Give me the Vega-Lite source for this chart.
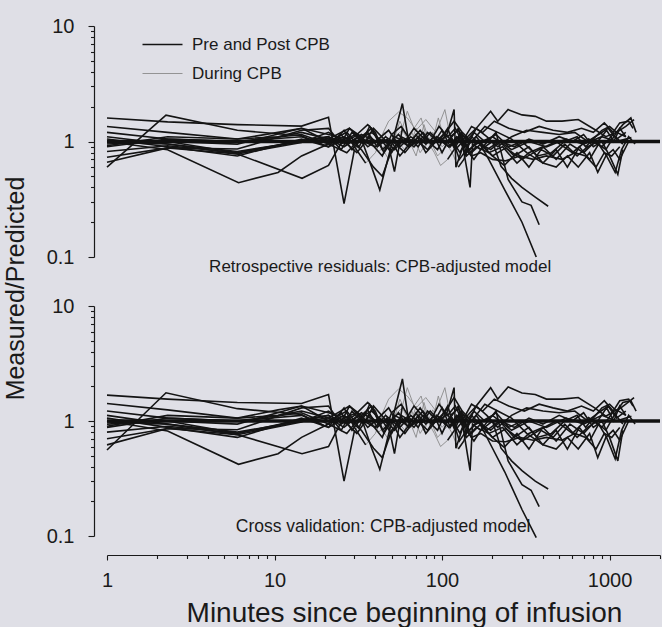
{
"$schema": "https://vega.github.io/schema/vega-lite/v6.json",
"background": "#dfdfe6",
"padding": {"left": 3, "top": 16, "right": 0, "bottom": 0},
"config": {
  "font": "Liberation Sans",
  "view": {"stroke": null},
  "axis": {"grid": false, "domainColor": "#1a1a1a", "tickColor": "#1a1a1a", "labelColor": "#1a1a1a", "titleColor": "#1a1a1a", "titleFontWeight": "normal", "domainWidth": 1.2, "tickWidth": 1.1, "labelOverlap": false, "labelFlush": false}
},
"data": {"values": [
{"g":11,"p":"P","t":1,"a":1.6,"b":1.68},{"g":11,"p":"P","t":2.3,"a":1.48,"b":1.55},{"g":11,"p":"P","t":6,"a":1.4,"b":1.45},{"g":11,"p":"P","t":14.5,"a":1.36,"b":1.42},{"g":11,"p":"P","t":21,"a":1.62,"b":1.7},{"g":11,"p":"P","t":26,"a":0.29,"b":0.3},{"g":11,"p":"P","t":30,"a":0.85,"b":0.82},
{"g":12,"p":"D","t":30,"a":0.85,"b":0.82},{"g":12,"p":"D","t":36,"a":1.1,"b":1.12},{"g":12,"p":"D","t":42,"a":0.82,"b":0.8},{"g":12,"p":"D","t":50,"a":1.05,"b":1.07},{"g":12,"p":"D","t":58,"a":1.25,"b":1.3},{"g":12,"p":"D","t":66,"a":0.92,"b":0.9},{"g":12,"p":"D","t":75,"a":1.1,"b":1.12},{"g":12,"p":"D","t":85,"a":0.95,"b":0.94},{"g":12,"p":"D","t":95,"a":1.08,"b":1.1},
{"g":13,"p":"P","t":95,"a":1.08,"b":1.1},{"g":13,"p":"P","t":110,"a":0.9,"b":0.88},{"g":13,"p":"P","t":130,"a":1.15,"b":1.18},{"g":13,"p":"P","t":160,"a":0.95,"b":0.94},{"g":13,"p":"P","t":200,"a":1.1,"b":1.12},{"g":13,"p":"P","t":260,"a":0.85,"b":0.83},{"g":13,"p":"P","t":330,"a":1.0,"b":1.0},{"g":13,"p":"P","t":420,"a":0.9,"b":0.88},{"g":13,"p":"P","t":550,"a":1.05,"b":1.06},{"g":13,"p":"P","t":700,"a":0.95,"b":0.94},{"g":13,"p":"P","t":900,"a":1.1,"b":1.12},{"g":13,"p":"P","t":1100,"a":1.0,"b":1.0},{"g":13,"p":"P","t":1350,"a":1.08,"b":1.1},
{"g":21,"p":"P","t":1,"a":0.6,"b":0.56},{"g":21,"p":"P","t":2.25,"a":1.69,"b":1.76},{"g":21,"p":"P","t":6,"a":1.25,"b":1.28},{"g":21,"p":"P","t":14.5,"a":1.12,"b":1.14},{"g":21,"p":"P","t":20,"a":0.92,"b":0.9},{"g":21,"p":"P","t":25,"a":1.15,"b":1.18},{"g":21,"p":"P","t":29,"a":0.85,"b":0.83},{"g":21,"p":"P","t":33,"a":1.05,"b":1.06},{"g":21,"p":"P","t":38,"a":0.6,"b":0.58},{"g":21,"p":"P","t":42.5,"a":0.38,"b":0.38},{"g":21,"p":"P","t":58,"a":2.13,"b":2.32},{"g":21,"p":"P","t":64,"a":0.9,"b":0.88},
{"g":22,"p":"D","t":64,"a":0.9,"b":0.88},{"g":22,"p":"D","t":70,"a":1.3,"b":1.35},{"g":22,"p":"D","t":78,"a":0.85,"b":0.82},{"g":22,"p":"D","t":88,"a":1.2,"b":1.25},{"g":22,"p":"D","t":100,"a":0.9,"b":0.88},{"g":22,"p":"D","t":112,"a":1.05,"b":1.06},
{"g":23,"p":"P","t":112,"a":1.05,"b":1.06},{"g":23,"p":"P","t":125,"a":1.3,"b":1.35},{"g":23,"p":"P","t":140,"a":0.8,"b":0.78},{"g":23,"p":"P","t":165,"a":1.0,"b":1.0},{"g":23,"p":"P","t":200,"a":0.75,"b":0.72},{"g":23,"p":"P","t":240,"a":0.88,"b":0.86},{"g":23,"p":"P","t":300,"a":0.7,"b":0.67},{"g":23,"p":"P","t":380,"a":0.85,"b":0.83},{"g":23,"p":"P","t":480,"a":1.0,"b":1.0},{"g":23,"p":"P","t":600,"a":0.8,"b":0.78},{"g":23,"p":"P","t":750,"a":1.05,"b":1.07},{"g":23,"p":"P","t":900,"a":0.9,"b":0.88},{"g":23,"p":"P","t":1050,"a":1.15,"b":1.2},{"g":23,"p":"P","t":1200,"a":0.95,"b":0.94},
{"g":31,"p":"P","t":1,"a":1.35,"b":1.42},{"g":31,"p":"P","t":2.3,"a":1.2,"b":1.25},{"g":31,"p":"P","t":6,"a":1.05,"b":1.06},{"g":31,"p":"P","t":10.5,"a":1.2,"b":1.25},{"g":31,"p":"P","t":14.5,"a":1.3,"b":1.35},{"g":31,"p":"P","t":21,"a":1.0,"b":1.0},{"g":31,"p":"P","t":27,"a":1.2,"b":1.22},{"g":31,"p":"P","t":32,"a":0.9,"b":0.88},{"g":31,"p":"P","t":37,"a":1.35,"b":1.4},{"g":31,"p":"P","t":42,"a":1.0,"b":1.0},
{"g":32,"p":"D","t":42,"a":1.0,"b":1.0},{"g":32,"p":"D","t":48,"a":1.5,"b":1.55},{"g":32,"p":"D","t":55,"a":1.8,"b":1.9},{"g":32,"p":"D","t":62,"a":1.6,"b":1.65},{"g":32,"p":"D","t":70,"a":1.25,"b":1.3},{"g":32,"p":"D","t":80,"a":1.55,"b":1.6},{"g":32,"p":"D","t":92,"a":1.2,"b":1.22},{"g":32,"p":"D","t":104,"a":1.89,"b":1.95},{"g":32,"p":"D","t":112,"a":1.1,"b":1.12},
{"g":33,"p":"P","t":112,"a":1.1,"b":1.12},{"g":33,"p":"P","t":125,"a":1.25,"b":1.28},{"g":33,"p":"P","t":140,"a":0.9,"b":0.9},{"g":33,"p":"P","t":160,"a":1.3,"b":1.35},{"g":33,"p":"P","t":195,"a":1.83,"b":1.95},{"g":33,"p":"P","t":215,"a":1.5,"b":1.55},{"g":33,"p":"P","t":248,"a":1.89,"b":1.98},{"g":33,"p":"P","t":300,"a":1.7,"b":1.75},{"g":33,"p":"P","t":360,"a":1.65,"b":1.7},{"g":33,"p":"P","t":420,"a":1.5,"b":1.55},{"g":33,"p":"P","t":520,"a":1.5,"b":1.55},{"g":33,"p":"P","t":650,"a":1.55,"b":1.6},{"g":33,"p":"P","t":815,"a":1.27,"b":1.3},{"g":33,"p":"P","t":950,"a":1.1,"b":1.1},{"g":33,"p":"P","t":1100,"a":1.2,"b":1.25},{"g":33,"p":"P","t":1250,"a":1.1,"b":1.12},
{"g":41,"p":"P","t":1,"a":1.0,"b":1.0},{"g":41,"p":"P","t":2.3,"a":0.85,"b":0.82},{"g":41,"p":"P","t":6.1,"a":0.44,"b":0.42},{"g":41,"p":"P","t":10.5,"a":0.54,"b":0.52},{"g":41,"p":"P","t":14.5,"a":0.75,"b":0.72},{"g":41,"p":"P","t":21,"a":0.95,"b":0.94},{"g":41,"p":"P","t":26,"a":1.1,"b":1.12},{"g":41,"p":"P","t":31,"a":0.95,"b":0.94},{"g":41,"p":"P","t":36,"a":1.2,"b":1.25},{"g":41,"p":"P","t":41,"a":0.9,"b":0.88},{"g":41,"p":"P","t":47,"a":1.05,"b":1.06},{"g":41,"p":"P","t":52,"a":0.55,"b":0.52},{"g":41,"p":"P","t":58,"a":1.3,"b":1.35},
{"g":42,"p":"D","t":58,"a":1.3,"b":1.35},{"g":42,"p":"D","t":62,"a":1.83,"b":1.95},{"g":42,"p":"D","t":68,"a":1.3,"b":1.35},{"g":42,"p":"D","t":75,"a":1.6,"b":1.65},{"g":42,"p":"D","t":82,"a":1.0,"b":1.0},{"g":42,"p":"D","t":90,"a":0.8,"b":0.78},{"g":42,"p":"D","t":98,"a":0.62,"b":0.6},{"g":42,"p":"D","t":108,"a":0.7,"b":0.68},
{"g":43,"p":"P","t":108,"a":0.7,"b":0.68},{"g":43,"p":"P","t":118,"a":0.85,"b":0.82},{"g":43,"p":"P","t":130,"a":1.1,"b":1.12},{"g":43,"p":"P","t":147,"a":0.4,"b":0.37},{"g":43,"p":"P","t":152,"a":0.95,"b":0.94},{"g":43,"p":"P","t":170,"a":0.85,"b":0.83},{"g":43,"p":"P","t":200,"a":1.0,"b":1.0},{"g":43,"p":"P","t":225,"a":0.61,"b":0.58},{"g":43,"p":"P","t":260,"a":0.48,"b":0.45},{"g":43,"p":"P","t":300,"a":0.4,"b":0.37},{"g":43,"p":"P","t":360,"a":0.33,"b":0.3},{"g":43,"p":"P","t":430,"a":0.275,"b":0.256},
{"g":51,"p":"P","t":1,"a":0.73,"b":0.7},{"g":51,"p":"P","t":2.3,"a":0.88,"b":0.86},{"g":51,"p":"P","t":6,"a":0.78,"b":0.76},{"g":51,"p":"P","t":14.6,"a":0.48,"b":0.52},{"g":51,"p":"P","t":21,"a":0.62,"b":0.6},{"g":51,"p":"P","t":28,"a":1.3,"b":1.35},{"g":51,"p":"P","t":33,"a":1.1,"b":1.12},{"g":51,"p":"P","t":38,"a":1.3,"b":1.35},{"g":51,"p":"P","t":44,"a":0.85,"b":0.83},{"g":51,"p":"P","t":50,"a":1.0,"b":1.0},{"g":51,"p":"P","t":56,"a":0.75,"b":0.72},{"g":51,"p":"P","t":62,"a":0.9,"b":0.88},{"g":51,"p":"P","t":70,"a":1.15,"b":1.18},{"g":51,"p":"P","t":80,"a":0.8,"b":0.78},{"g":51,"p":"P","t":92,"a":1.0,"b":1.0},{"g":51,"p":"P","t":105,"a":1.2,"b":1.22},{"g":51,"p":"P","t":118,"a":1.5,"b":1.6},{"g":51,"p":"P","t":132,"a":1.2,"b":1.22},{"g":51,"p":"P","t":150,"a":1.0,"b":1.0},{"g":51,"p":"P","t":180,"a":1.35,"b":1.4},{"g":51,"p":"P","t":215,"a":1.2,"b":1.22},{"g":51,"p":"P","t":260,"a":1.05,"b":1.06},{"g":51,"p":"P","t":320,"a":0.8,"b":0.78},{"g":51,"p":"P","t":400,"a":0.65,"b":0.62},{"g":51,"p":"P","t":480,"a":0.6,"b":0.57},{"g":51,"p":"P","t":560,"a":0.75,"b":0.72},{"g":51,"p":"P","t":650,"a":0.6,"b":0.57},{"g":51,"p":"P","t":760,"a":0.8,"b":0.78},{"g":51,"p":"P","t":850,"a":0.54,"b":0.48},{"g":51,"p":"P","t":950,"a":0.75,"b":0.72},{"g":51,"p":"P","t":1050,"a":0.85,"b":0.83},{"g":51,"p":"P","t":1150,"a":0.7,"b":0.68},{"g":51,"p":"P","t":1300,"a":1.0,"b":1.0},
{"g":61,"p":"P","t":1,"a":0.95,"b":0.94},{"g":61,"p":"P","t":2.3,"a":1.0,"b":1.0},{"g":61,"p":"P","t":6,"a":0.8,"b":0.78},{"g":61,"p":"P","t":14.5,"a":1.0,"b":1.0},{"g":61,"p":"P","t":21,"a":1.1,"b":1.12},{"g":61,"p":"P","t":27,"a":0.95,"b":0.94},{"g":61,"p":"P","t":33,"a":1.15,"b":1.18},{"g":61,"p":"P","t":40,"a":1.0,"b":1.0},{"g":61,"p":"P","t":48,"a":1.25,"b":1.3},{"g":61,"p":"P","t":56,"a":0.9,"b":0.88},{"g":61,"p":"P","t":65,"a":1.1,"b":1.12},{"g":61,"p":"P","t":75,"a":0.95,"b":0.94},{"g":61,"p":"P","t":85,"a":1.2,"b":1.22},{"g":61,"p":"P","t":96,"a":1.0,"b":1.0},{"g":61,"p":"P","t":108,"a":1.3,"b":1.35},{"g":61,"p":"P","t":118,"a":0.9,"b":0.88},{"g":61,"p":"P","t":130,"a":1.15,"b":1.18},{"g":61,"p":"P","t":145,"a":0.85,"b":0.83},{"g":61,"p":"P","t":165,"a":1.0,"b":1.0},{"g":61,"p":"P","t":190,"a":0.7,"b":0.67},{"g":61,"p":"P","t":237,"a":0.38,"b":0.36},{"g":61,"p":"P","t":300,"a":0.2,"b":0.17},{"g":61,"p":"P","t":365,"a":0.1,"b":0.097},
{"g":71,"p":"P","t":1,"a":1.2,"b":1.22},{"g":71,"p":"P","t":2.3,"a":1.05,"b":1.06},{"g":71,"p":"P","t":6,"a":1.0,"b":1.0},{"g":71,"p":"P","t":14.5,"a":1.1,"b":1.12},{"g":71,"p":"P","t":21,"a":0.9,"b":0.88},{"g":71,"p":"P","t":26,"a":1.25,"b":1.3},{"g":71,"p":"P","t":30,"a":0.9,"b":0.88},{"g":71,"p":"P","t":35,"a":0.65,"b":0.62},
{"g":72,"p":"D","t":35,"a":0.65,"b":0.62},{"g":72,"p":"D","t":40,"a":0.8,"b":0.78},{"g":72,"p":"D","t":45,"a":1.2,"b":1.22},{"g":72,"p":"D","t":50,"a":0.9,"b":0.88},{"g":72,"p":"D","t":56,"a":1.5,"b":1.55},{"g":72,"p":"D","t":62,"a":1.1,"b":1.12},{"g":72,"p":"D","t":70,"a":0.75,"b":0.72},{"g":72,"p":"D","t":78,"a":1.4,"b":1.45},{"g":72,"p":"D","t":86,"a":0.9,"b":0.88},{"g":72,"p":"D","t":95,"a":1.6,"b":1.65},{"g":72,"p":"D","t":104,"a":1.0,"b":1.0},{"g":72,"p":"D","t":115,"a":0.8,"b":0.78},{"g":72,"p":"D","t":125,"a":0.6,"b":0.57},
{"g":73,"p":"P","t":125,"a":0.6,"b":0.57},{"g":73,"p":"P","t":135,"a":0.7,"b":0.67},{"g":73,"p":"P","t":150,"a":1.1,"b":1.12},{"g":73,"p":"P","t":175,"a":0.9,"b":0.88},{"g":73,"p":"P","t":210,"a":1.2,"b":1.22},{"g":73,"p":"P","t":248,"a":0.47,"b":0.45},{"g":73,"p":"P","t":300,"a":0.3,"b":0.28},{"g":73,"p":"P","t":340,"a":0.28,"b":0.25},{"g":73,"p":"P","t":380,"a":0.19,"b":0.18},
{"g":81,"p":"P","t":1,"a":0.82,"b":0.8},{"g":81,"p":"P","t":2.3,"a":0.92,"b":0.9},{"g":81,"p":"P","t":6,"a":0.8,"b":0.78},{"g":81,"p":"P","t":14.5,"a":1.02,"b":1.03},{"g":81,"p":"P","t":21,"a":1.1,"b":1.12},{"g":81,"p":"P","t":25,"a":0.85,"b":0.83},{"g":81,"p":"P","t":29,"a":1.2,"b":1.22},{"g":81,"p":"P","t":34,"a":0.95,"b":0.94},{"g":81,"p":"P","t":39,"a":1.3,"b":1.35},{"g":81,"p":"P","t":45,"a":1.05,"b":1.06},{"g":81,"p":"P","t":52,"a":0.85,"b":0.83},{"g":81,"p":"P","t":60,"a":1.05,"b":1.06},{"g":81,"p":"P","t":68,"a":0.9,"b":0.88},{"g":81,"p":"P","t":77,"a":1.1,"b":1.12},{"g":81,"p":"P","t":88,"a":0.95,"b":0.94},{"g":81,"p":"P","t":100,"a":1.25,"b":1.3},{"g":81,"p":"P","t":112,"a":0.9,"b":0.88},{"g":81,"p":"P","t":125,"a":1.1,"b":1.12},{"g":81,"p":"P","t":140,"a":0.75,"b":0.72},{"g":81,"p":"P","t":160,"a":0.9,"b":0.88},{"g":81,"p":"P","t":190,"a":0.8,"b":0.78},{"g":81,"p":"P","t":230,"a":0.9,"b":0.88},{"g":81,"p":"P","t":280,"a":0.65,"b":0.62},{"g":81,"p":"P","t":330,"a":0.8,"b":0.78},{"g":81,"p":"P","t":400,"a":0.9,"b":0.88},{"g":81,"p":"P","t":480,"a":0.7,"b":0.67},{"g":81,"p":"P","t":580,"a":0.95,"b":0.94},{"g":81,"p":"P","t":700,"a":0.8,"b":0.78},{"g":81,"p":"P","t":820,"a":1.0,"b":1.0},{"g":81,"p":"P","t":950,"a":0.85,"b":0.83},{"g":81,"p":"P","t":1100,"a":1.2,"b":1.22},{"g":81,"p":"P","t":1250,"a":1.35,"b":1.4},{"g":81,"p":"P","t":1400,"a":1.55,"b":1.6},
{"g":91,"p":"P","t":1,"a":1.1,"b":1.12},{"g":91,"p":"P","t":2.3,"a":0.95,"b":0.94},{"g":91,"p":"P","t":6,"a":0.78,"b":0.76},{"g":91,"p":"P","t":14.5,"a":0.98,"b":0.98},{"g":91,"p":"P","t":21,"a":1.2,"b":1.22},{"g":91,"p":"P","t":26,"a":1.0,"b":1.0},{"g":91,"p":"P","t":31,"a":0.8,"b":0.78},{"g":91,"p":"P","t":37,"a":1.1,"b":1.12},{"g":91,"p":"P","t":43,"a":0.92,"b":0.9},
{"g":92,"p":"D","t":43,"a":0.92,"b":0.9},{"g":92,"p":"D","t":48,"a":0.7,"b":0.68},{"g":92,"p":"D","t":54,"a":1.0,"b":1.0},{"g":92,"p":"D","t":60,"a":0.85,"b":0.83},{"g":92,"p":"D","t":66,"a":1.2,"b":1.22},{"g":92,"p":"D","t":74,"a":0.8,"b":0.78},{"g":92,"p":"D","t":84,"a":1.05,"b":1.06},{"g":92,"p":"D","t":94,"a":0.75,"b":0.72},{"g":92,"p":"D","t":106,"a":0.9,"b":0.88},{"g":92,"p":"D","t":120,"a":1.0,"b":1.0},
{"g":93,"p":"P","t":120,"a":1.0,"b":1.0},{"g":93,"p":"P","t":130,"a":1.2,"b":1.22},{"g":93,"p":"P","t":145,"a":0.95,"b":0.94},{"g":93,"p":"P","t":160,"a":1.1,"b":1.12},{"g":93,"p":"P","t":185,"a":0.85,"b":0.83},{"g":93,"p":"P","t":220,"a":1.0,"b":1.0},{"g":93,"p":"P","t":270,"a":0.75,"b":0.72},{"g":93,"p":"P","t":330,"a":0.9,"b":0.88},{"g":93,"p":"P","t":400,"a":0.65,"b":0.62},{"g":93,"p":"P","t":480,"a":0.85,"b":0.83},{"g":93,"p":"P","t":560,"a":0.6,"b":0.57},{"g":93,"p":"P","t":660,"a":0.9,"b":0.88},{"g":93,"p":"P","t":760,"a":0.7,"b":0.67},{"g":93,"p":"P","t":860,"a":0.95,"b":0.94},{"g":93,"p":"P","t":960,"a":0.75,"b":0.72},{"g":93,"p":"P","t":1080,"a":0.54,"b":0.47},{"g":93,"p":"P","t":1180,"a":0.85,"b":0.83},{"g":93,"p":"P","t":1300,"a":1.1,"b":1.12},{"g":93,"p":"P","t":1420,"a":0.95,"b":0.94},
{"g":101,"p":"P","t":1,"a":0.9,"b":0.88},{"g":101,"p":"P","t":2.3,"a":1.05,"b":1.06},{"g":101,"p":"P","t":6,"a":1.0,"b":1.0},{"g":101,"p":"P","t":14.5,"a":1.15,"b":1.18},{"g":101,"p":"P","t":21,"a":0.95,"b":0.94},{"g":101,"p":"P","t":27,"a":0.8,"b":0.78},{"g":101,"p":"P","t":32,"a":1.05,"b":1.06},{"g":101,"p":"P","t":38,"a":1.2,"b":1.22},{"g":101,"p":"P","t":44,"a":1.0,"b":1.0},{"g":101,"p":"P","t":50,"a":0.8,"b":0.78},{"g":101,"p":"P","t":57,"a":1.1,"b":1.12},{"g":101,"p":"P","t":65,"a":1.0,"b":1.0},{"g":101,"p":"P","t":74,"a":1.25,"b":1.3},{"g":101,"p":"P","t":83,"a":1.0,"b":1.0},{"g":101,"p":"P","t":94,"a":0.85,"b":0.83},{"g":101,"p":"P","t":105,"a":1.15,"b":1.18},{"g":101,"p":"P","t":116,"a":1.0,"b":1.0},{"g":101,"p":"P","t":128,"a":0.8,"b":0.78},{"g":101,"p":"P","t":142,"a":1.1,"b":1.12},{"g":101,"p":"P","t":160,"a":1.3,"b":1.35},{"g":101,"p":"P","t":185,"a":1.1,"b":1.12},{"g":101,"p":"P","t":215,"a":0.9,"b":0.88},{"g":101,"p":"P","t":260,"a":1.1,"b":1.12},{"g":101,"p":"P","t":320,"a":1.25,"b":1.3},{"g":101,"p":"P","t":400,"a":1.2,"b":1.22},{"g":101,"p":"P","t":500,"a":1.15,"b":1.18},{"g":101,"p":"P","t":620,"a":1.2,"b":1.22},{"g":101,"p":"P","t":740,"a":1.0,"b":1.0},{"g":101,"p":"P","t":860,"a":1.15,"b":1.18},{"g":101,"p":"P","t":980,"a":1.3,"b":1.35},{"g":101,"p":"P","t":1100,"a":1.05,"b":1.06},{"g":101,"p":"P","t":1250,"a":1.2,"b":1.22},
{"g":111,"p":"P","t":1,"a":1.05,"b":1.06},{"g":111,"p":"P","t":2.3,"a":0.9,"b":0.88},{"g":111,"p":"P","t":6,"a":0.75,"b":0.72},{"g":111,"p":"P","t":14.5,"a":1.05,"b":1.06},{"g":111,"p":"P","t":21,"a":0.9,"b":0.88},{"g":111,"p":"P","t":26,"a":1.05,"b":1.06},{"g":111,"p":"P","t":31,"a":1.15,"b":1.18},{"g":111,"p":"P","t":36,"a":0.9,"b":0.88},{"g":111,"p":"P","t":42,"a":1.05,"b":1.06},{"g":111,"p":"P","t":48,"a":0.95,"b":0.94},{"g":111,"p":"P","t":55,"a":1.15,"b":1.18},{"g":111,"p":"P","t":63,"a":0.9,"b":0.88},{"g":111,"p":"P","t":72,"a":1.0,"b":1.0},{"g":111,"p":"P","t":82,"a":0.85,"b":0.83},{"g":111,"p":"P","t":93,"a":1.1,"b":1.12},{"g":111,"p":"P","t":104,"a":0.95,"b":0.94},{"g":111,"p":"P","t":115,"a":1.05,"b":1.06},{"g":111,"p":"P","t":127,"a":0.7,"b":0.67},{"g":111,"p":"P","t":140,"a":0.85,"b":0.83},{"g":111,"p":"P","t":155,"a":0.7,"b":0.67},{"g":111,"p":"P","t":175,"a":0.9,"b":0.88},{"g":111,"p":"P","t":200,"a":0.75,"b":0.72},{"g":111,"p":"P","t":235,"a":0.62,"b":0.59},{"g":111,"p":"P","t":280,"a":0.8,"b":0.78},{"g":111,"p":"P","t":330,"a":0.6,"b":0.57},{"g":111,"p":"P","t":390,"a":0.85,"b":0.83},{"g":111,"p":"P","t":460,"a":0.75,"b":0.72},{"g":111,"p":"P","t":540,"a":0.95,"b":0.94},{"g":111,"p":"P","t":640,"a":0.75,"b":0.72},{"g":111,"p":"P","t":740,"a":0.9,"b":0.88},{"g":111,"p":"P","t":850,"a":1.0,"b":1.0},{"g":111,"p":"P","t":960,"a":1.25,"b":1.3},{"g":111,"p":"P","t":1060,"a":1.0,"b":1.0},{"g":111,"p":"P","t":1150,"a":1.3,"b":1.35},{"g":111,"p":"P","t":1250,"a":1.1,"b":1.12},
{"g":121,"p":"P","t":1,"a":0.92,"b":0.9},{"g":121,"p":"P","t":2.3,"a":1.1,"b":1.12},{"g":121,"p":"P","t":6,"a":1.05,"b":1.06},{"g":121,"p":"P","t":10.5,"a":1.1,"b":1.12},{"g":121,"p":"P","t":14.5,"a":1.2,"b":1.22},{"g":121,"p":"P","t":21,"a":1.05,"b":1.06},{"g":121,"p":"P","t":26,"a":0.9,"b":0.88},{"g":121,"p":"P","t":32,"a":1.1,"b":1.12},{"g":121,"p":"P","t":38,"a":0.95,"b":0.94},{"g":121,"p":"P","t":44,"a":0.75,"b":0.72},{"g":121,"p":"P","t":50,"a":1.15,"b":1.18},{"g":121,"p":"P","t":57,"a":1.35,"b":1.4},{"g":121,"p":"P","t":64,"a":1.05,"b":1.06},{"g":121,"p":"P","t":72,"a":0.9,"b":0.88},{"g":121,"p":"P","t":82,"a":1.2,"b":1.22},{"g":121,"p":"P","t":94,"a":1.0,"b":1.0},{"g":121,"p":"P","t":106,"a":1.1,"b":1.12},{"g":121,"p":"P","t":118,"a":1.89,"b":1.95},{"g":121,"p":"P","t":121,"a":0.6,"b":0.58},{"g":121,"p":"P","t":135,"a":0.95,"b":0.94},{"g":121,"p":"P","t":155,"a":1.2,"b":1.22},{"g":121,"p":"P","t":180,"a":1.0,"b":1.0},{"g":121,"p":"P","t":210,"a":1.15,"b":1.18},{"g":121,"p":"P","t":250,"a":0.9,"b":0.88},{"g":121,"p":"P","t":300,"a":1.0,"b":1.0},{"g":121,"p":"P","t":370,"a":0.75,"b":0.72},{"g":121,"p":"P","t":450,"a":0.8,"b":0.78},{"g":121,"p":"P","t":540,"a":1.0,"b":1.0},{"g":121,"p":"P","t":640,"a":1.1,"b":1.12},{"g":121,"p":"P","t":720,"a":0.9,"b":0.88},{"g":121,"p":"P","t":800,"a":1.05,"b":1.06},{"g":121,"p":"P","t":900,"a":1.25,"b":1.3},{"g":121,"p":"P","t":1000,"a":1.35,"b":1.4},{"g":121,"p":"P","t":1100,"a":1.2,"b":1.22},{"g":121,"p":"P","t":1200,"a":1.4,"b":1.45},{"g":121,"p":"P","t":1340,"a":1.6,"b":1.5},{"g":121,"p":"P","t":1440,"a":1.2,"b":1.22},
{"g":131,"p":"P","t":1,"a":0.98,"b":0.98},{"g":131,"p":"P","t":2.3,"a":0.95,"b":0.94},{"g":131,"p":"P","t":6,"a":0.82,"b":0.8},{"g":131,"p":"P","t":14.5,"a":1.0,"b":1.0},{"g":131,"p":"P","t":21,"a":1.05,"b":1.06},{"g":131,"p":"P","t":28,"a":1.3,"b":1.35},{"g":131,"p":"P","t":34,"a":1.0,"b":1.0},{"g":131,"p":"P","t":40,"a":0.9,"b":0.88},{"g":131,"p":"P","t":46,"a":1.1,"b":1.12},{"g":131,"p":"P","t":53,"a":0.95,"b":0.94},{"g":131,"p":"P","t":60,"a":0.8,"b":0.78},{"g":131,"p":"P","t":68,"a":1.0,"b":1.0},{"g":131,"p":"P","t":77,"a":1.2,"b":1.22},{"g":131,"p":"P","t":87,"a":0.95,"b":0.94},{"g":131,"p":"P","t":98,"a":1.05,"b":1.06},{"g":131,"p":"P","t":110,"a":0.9,"b":0.88},{"g":131,"p":"P","t":122,"a":1.1,"b":1.12},{"g":131,"p":"P","t":135,"a":0.95,"b":0.94},{"g":131,"p":"P","t":150,"a":0.8,"b":0.78},{"g":131,"p":"P","t":170,"a":0.95,"b":0.94},{"g":131,"p":"P","t":195,"a":0.85,"b":0.83},{"g":131,"p":"P","t":225,"a":1.0,"b":1.0},{"g":131,"p":"P","t":270,"a":0.9,"b":0.88},{"g":131,"p":"P","t":330,"a":1.05,"b":1.06},{"g":131,"p":"P","t":400,"a":0.95,"b":0.94},{"g":131,"p":"P","t":500,"a":1.1,"b":1.12},{"g":131,"p":"P","t":600,"a":1.0,"b":1.0},{"g":131,"p":"P","t":700,"a":1.15,"b":1.18},{"g":131,"p":"P","t":800,"a":0.9,"b":0.88},{"g":131,"p":"P","t":900,"a":1.0,"b":1.0},{"g":131,"p":"P","t":1000,"a":0.75,"b":0.72},{"g":131,"p":"P","t":1120,"a":0.52,"b":0.45},{"g":131,"p":"P","t":1200,"a":0.85,"b":0.83},
{"g":141,"p":"P","t":1,"a":0.66,"b":0.62},{"g":141,"p":"P","t":2.3,"a":0.88,"b":0.86},{"g":141,"p":"P","t":6,"a":0.86,"b":0.84},{"g":141,"p":"P","t":14.5,"a":1.25,"b":1.3},{"g":141,"p":"P","t":21,"a":1.3,"b":1.35},{"g":141,"p":"P","t":25,"a":0.95,"b":0.94},{"g":141,"p":"P","t":30,"a":1.1,"b":1.12},{"g":141,"p":"P","t":36,"a":1.4,"b":1.45},{"g":141,"p":"P","t":40,"a":1.2,"b":1.22},{"g":141,"p":"P","t":45,"a":0.8,"b":0.78},{"g":141,"p":"P","t":52,"a":1.1,"b":1.12},{"g":141,"p":"P","t":60,"a":1.0,"b":1.0},{"g":141,"p":"P","t":68,"a":1.3,"b":1.35},{"g":141,"p":"P","t":76,"a":1.1,"b":1.12},{"g":141,"p":"P","t":85,"a":1.0,"b":1.0},{"g":141,"p":"P","t":96,"a":1.35,"b":1.4},{"g":141,"p":"P","t":108,"a":1.1,"b":1.12},{"g":141,"p":"P","t":120,"a":1.3,"b":1.35},{"g":141,"p":"P","t":132,"a":1.0,"b":1.0},{"g":141,"p":"P","t":150,"a":1.35,"b":1.4},{"g":141,"p":"P","t":175,"a":1.2,"b":1.22},{"g":141,"p":"P","t":205,"a":1.5,"b":1.55},{"g":141,"p":"P","t":250,"a":1.3,"b":1.35},{"g":141,"p":"P","t":310,"a":1.2,"b":1.22},{"g":141,"p":"P","t":380,"a":1.35,"b":1.4},{"g":141,"p":"P","t":460,"a":1.25,"b":1.3},{"g":141,"p":"P","t":560,"a":1.2,"b":1.22},{"g":141,"p":"P","t":680,"a":1.3,"b":1.35},{"g":141,"p":"P","t":800,"a":1.2,"b":1.22},{"g":141,"p":"P","t":930,"a":1.45,"b":1.5},{"g":141,"p":"P","t":1050,"a":1.2,"b":1.22},{"g":141,"p":"P","t":1150,"a":1.45,"b":1.5},{"g":141,"p":"P","t":1300,"a":1.5,"b":1.55},{"g":141,"p":"P","t":1380,"a":1.3,"b":1.35},
{"g":151,"p":"P","t":1,"a":1.0,"b":1.0},{"g":151,"p":"P","t":2.3,"a":1.0,"b":1.0},{"g":151,"p":"P","t":6,"a":0.95,"b":0.94},{"g":151,"p":"P","t":14.5,"a":1.3,"b":1.35},{"g":151,"p":"P","t":21,"a":1.15,"b":1.18},{"g":151,"p":"P","t":27,"a":1.05,"b":1.06},{"g":151,"p":"P","t":33,"a":0.85,"b":0.83},{"g":151,"p":"P","t":39,"a":0.6,"b":0.58},{"g":151,"p":"P","t":44,"a":0.5,"b":0.48},{"g":151,"p":"P","t":50,"a":0.85,"b":0.83},{"g":151,"p":"P","t":57,"a":1.0,"b":1.0},{"g":151,"p":"P","t":64,"a":0.9,"b":0.88},{"g":151,"p":"P","t":72,"a":1.1,"b":1.12},{"g":151,"p":"P","t":80,"a":0.95,"b":0.94},{"g":151,"p":"P","t":90,"a":1.1,"b":1.12},{"g":151,"p":"P","t":100,"a":0.8,"b":0.78},{"g":151,"p":"P","t":110,"a":1.05,"b":1.06},{"g":151,"p":"P","t":120,"a":0.85,"b":0.83},{"g":151,"p":"P","t":133,"a":1.0,"b":1.0},{"g":151,"p":"P","t":150,"a":0.75,"b":0.72},{"g":151,"p":"P","t":170,"a":0.8,"b":0.78},{"g":151,"p":"P","t":200,"a":0.7,"b":0.67},{"g":151,"p":"P","t":240,"a":0.68,"b":0.66},{"g":151,"p":"P","t":290,"a":0.75,"b":0.72},{"g":151,"p":"P","t":350,"a":0.7,"b":0.68},{"g":151,"p":"P","t":420,"a":0.75,"b":0.72},{"g":151,"p":"P","t":520,"a":0.7,"b":0.68},{"g":151,"p":"P","t":620,"a":0.8,"b":0.78},{"g":151,"p":"P","t":720,"a":0.75,"b":0.72},{"g":151,"p":"P","t":830,"a":0.6,"b":0.57},{"g":151,"p":"P","t":930,"a":0.8,"b":0.78},{"g":151,"p":"P","t":1030,"a":0.75,"b":0.72},{"g":151,"p":"P","t":1150,"a":0.9,"b":0.88}
]},
"spacing": 49,
"bounds": "flush",
"resolve": {"scale": {"color": "independent", "strokeWidth": "independent"}},
"vconcat": [
  {
    "width": 553, "height": 231,
    "layer": [
      {
        "transform": [{"filter": "datum.p == 'D'"}],
        "mark": {"type": "line"},
        "encoding": {
          "x": {"field": "t", "type": "quantitative", "scale": {"type": "log", "domain": [1, 2000], "nice": false}, "axis": null},
          "y": {"field": "a", "type": "quantitative", "scale": {"type": "log", "domain": [0.1, 10], "nice": false}},
          "detail": {"field": "g"},
          "color": {"field": "p", "type": "ordinal", "scale": {"domain": ["P", "D"], "range": ["#141414", "#8a8a8a"]},
            "legend": {"title": null, "orient": "none", "legendX": 27, "legendY": 10, "symbolType": "M0,0H40", "symbolSize": 4, "labelFontSize": 17, "labelOffset": 41, "rowPadding": 11, "padding": 0, "labelColor": "#1a1a1a", "labelLimit": 300, "labelExpr": "datum.value == 'P' ? 'Pre and Post CPB' : 'During CPB'"}},
          "strokeWidth": {"field": "p", "type": "ordinal", "scale": {"domain": ["P", "D"], "range": [1.6, 0.9]},
            "legend": {"title": null, "orient": "none", "legendX": 27, "legendY": 10, "symbolType": "M0,0H40", "symbolSize": 4, "labelFontSize": 17, "labelOffset": 41, "rowPadding": 11, "padding": 0, "labelColor": "#1a1a1a", "labelLimit": 300, "labelExpr": "datum.value == 'P' ? 'Pre and Post CPB' : 'During CPB'"}}
        }
      },
      {
        "transform": [{"filter": "datum.p == 'P'"}],
        "mark": {"type": "line"},
        "encoding": {
          "x": {"field": "t", "type": "quantitative", "scale": {"type": "log", "domain": [1, 2000], "nice": false}, "axis": null},
          "y": {"field": "a", "type": "quantitative", "scale": {"type": "log", "domain": [0.1, 10], "nice": false},
            "axis": {"title": "Measured/Predicted", "titleFontSize": 25, "titleX": -71, "titleY": 262, "titleBaseline": "alphabetic", "titleAngle": -90,
              "values": [0.1,0.2,0.3,0.4,0.5,0.6,0.7,0.8,0.9,1,2,3,4,5,6,7,8,9,10],
              "labelExpr": "datum.value == 0.1 ? '0.1' : datum.value == 1 ? '1' : datum.value == 10 ? '10' : ''",
              "labelFontSize": 20, "labelPadding": 14, "offset": 13,
              "tickSize": {"condition": {"test": "datum.value == 0.1 || datum.value == 1 || datum.value == 10", "value": 6}, "value": 3.5}}},
          "detail": {"field": "g"},
          "color": {"field": "p", "type": "ordinal", "scale": {"domain": ["P", "D"], "range": ["#141414", "#8a8a8a"]}},
          "strokeWidth": {"field": "p", "type": "ordinal", "scale": {"domain": ["P", "D"], "range": [1.6, 0.9]}}
        }
      },
      {
        "data": {"values": [{"v": 1}]},
        "mark": {"type": "rule", "color": "#111111", "strokeWidth": 3.5},
        "encoding": {"y": {"field": "v", "type": "quantitative"}}
      },
      {
        "data": {"values": [{"x": 42.7, "y": 0.1, "label": "Retrospective residuals: CPB-adjusted model"}]},
        "mark": {"type": "text", "fontSize": 17, "color": "#1a1a1a", "align": "center", "baseline": "middle", "dy": 10},
        "encoding": {"x": {"field": "x", "type": "quantitative"}, "y": {"field": "y", "type": "quantitative"}, "text": {"field": "label"}}
      }
    ]
  },
  {
    "width": 553, "height": 230,
    "layer": [
      {
        "transform": [{"filter": "datum.p == 'D'"}],
        "mark": {"type": "line"},
        "encoding": {
          "x": {"field": "t", "type": "quantitative", "scale": {"type": "log", "domain": [1, 2000], "nice": false}},
          "y": {"field": "b", "type": "quantitative", "scale": {"type": "log", "domain": [0.1, 10], "nice": false}},
          "detail": {"field": "g"},
          "color": {"field": "p", "type": "ordinal", "scale": {"domain": ["P", "D"], "range": ["#141414", "#8a8a8a"]}, "legend": null},
          "strokeWidth": {"field": "p", "type": "ordinal", "scale": {"domain": ["P", "D"], "range": [1.6, 0.9]}, "legend": null}
        }
      },
      {
        "transform": [{"filter": "datum.p == 'P'"}],
        "mark": {"type": "line"},
        "encoding": {
          "x": {"field": "t", "type": "quantitative", "scale": {"type": "log", "domain": [1, 2000], "nice": false},
            "axis": {"title": "Minutes since beginning of infusion", "titleFontSize": 28, "titlePadding": 9, "titleX": 297, "titleAnchor": "middle", "titleAlign": "center",
              "values": [1,2,3,4,5,6,7,8,9,10,20,30,40,50,60,70,80,90,100,200,300,400,500,600,700,800,900,1000,2000],
              "labelExpr": "datum.value == 1 ? '1' : datum.value == 10 ? '10' : datum.value == 100 ? '100' : datum.value == 1000 ? '1000' : ''",
              "labelFontSize": 20, "labelPadding": 10, "offset": 19,
              "tickSize": {"condition": {"test": "datum.value == 1 || datum.value == 10 || datum.value == 100 || datum.value == 1000", "value": 5}, "value": 3.5}}},
          "y": {"field": "b", "type": "quantitative", "scale": {"type": "log", "domain": [0.1, 10], "nice": false},
            "axis": {"title": null,
              "values": [0.1,0.2,0.3,0.4,0.5,0.6,0.7,0.8,0.9,1,2,3,4,5,6,7,8,9,10],
              "labelExpr": "datum.value == 0.1 ? '0.1' : datum.value == 1 ? '1' : datum.value == 10 ? '10' : ''",
              "labelFontSize": 20, "labelPadding": 14, "offset": 13,
              "tickSize": {"condition": {"test": "datum.value == 0.1 || datum.value == 1 || datum.value == 10", "value": 6}, "value": 3.5}}},
          "detail": {"field": "g"},
          "color": {"field": "p", "type": "ordinal", "scale": {"domain": ["P", "D"], "range": ["#141414", "#8a8a8a"]}, "legend": null},
          "strokeWidth": {"field": "p", "type": "ordinal", "scale": {"domain": ["P", "D"], "range": [1.6, 0.9]}, "legend": null}
        }
      },
      {
        "data": {"values": [{"v": 1}]},
        "mark": {"type": "rule", "color": "#111111", "strokeWidth": 3.5},
        "encoding": {"y": {"field": "v", "type": "quantitative"}}
      },
      {
        "data": {"values": [{"x": 44.5, "y": 0.1, "label": "Cross validation: CPB-adjusted model"}]},
        "mark": {"type": "text", "fontSize": 17.5, "color": "#1a1a1a", "align": "center", "baseline": "middle", "dy": -9},
        "encoding": {"x": {"field": "x", "type": "quantitative"}, "y": {"field": "y", "type": "quantitative"}, "text": {"field": "label"}}
      }
    ]
  }
]
}
